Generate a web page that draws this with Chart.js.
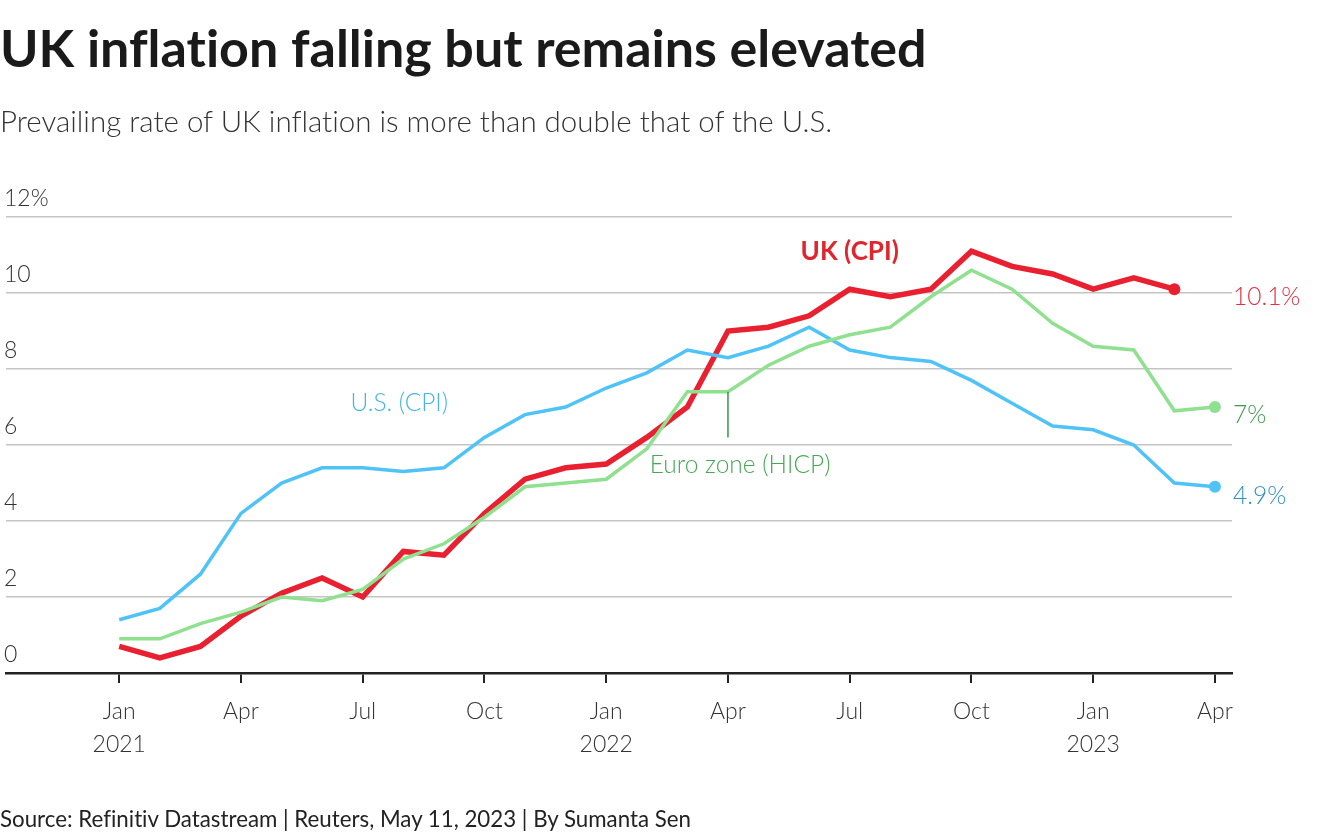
<!DOCTYPE html>
<html><head><meta charset="utf-8">
<script src="https://cdn.jsdelivr.net/npm/chart.js@4/dist/chart.umd.min.js"></script>
<style>
html,body{margin:0;padding:0;background:#fff;width:1320px;height:840px;overflow:hidden;font-family:Lato,"Noto Sans",sans-serif;}
#wrap{position:absolute;left:0;top:0;width:1320px;height:840px;}
.t{position:absolute;left:0;white-space:nowrap;color:#1a1a1a;font-variant-ligatures:none;}
#title{top:16px;font-size:52px;font-weight:700;}
#sub{top:103px;font-size:29.5px;font-weight:300;color:#333;}
#src{top:805px;font-size:22.3px;font-weight:400;color:#222;}
</style></head>
<body>
<div id="wrap"><canvas id="c" width="1320" height="840"></canvas></div>
<div class="t" id="title">UK inflation falling but remains elevated</div>
<div class="t" id="sub">Prevailing rate of UK inflation is more than double that of the U.S.</div>
<div class="t" id="src">Source: Refinitiv Datastream | Reuters, May 11, 2023 | By Sumanta Sen</div>
<script>
// Months from Jan 2021 (index 0) to Apr 2023 (index 27)
const months = ["Jan 2021","Feb 2021","Mar 2021","Apr 2021","May 2021","Jun 2021","Jul 2021","Aug 2021","Sep 2021","Oct 2021","Nov 2021","Dec 2021",
"Jan 2022","Feb 2022","Mar 2022","Apr 2022","May 2022","Jun 2022","Jul 2022","Aug 2022","Sep 2022","Oct 2022","Nov 2022","Dec 2022",
"Jan 2023","Feb 2023","Mar 2023","Apr 2023"];
const usCPI = [1.4,1.7,2.6,4.2,5.0,5.4,5.4,5.3,5.4,6.2,6.8,7.0,7.5,7.9,8.5,8.3,8.6,9.1,8.5,8.3,8.2,7.7,7.1,6.5,6.4,6.0,5.0,4.9];
const ukCPI = [0.7,0.4,0.7,1.5,2.1,2.5,2.0,3.2,3.1,4.2,5.1,5.4,5.5,6.2,7.0,9.0,9.1,9.4,10.1,9.9,10.1,11.1,10.7,10.5,10.1,10.4,10.1];
const euroHICP = [0.9,0.9,1.3,1.6,2.0,1.9,2.2,3.0,3.4,4.1,4.9,5.0,5.1,5.9,7.4,7.4,8.1,8.6,8.9,9.1,9.9,10.6,10.1,9.2,8.6,8.5,6.9,7.0];
const xTickIdx = [0,3,6,9,12,15,18,21,24,27];
const xTickLabels = [["Jan","2021"],["Apr"],["Jul"],["Oct"],["Jan","2022"],["Apr"],["Jul"],["Oct"],["Jan","2023"],["Apr"]];
const yTicks = [0,2,4,6,8,10,12];

const RED="#e8202f", BLUE="#4fc3f7", GREEN="#8fe08f";
const FONT='Lato, "Noto Sans", sans-serif';
const pts = a => a.map((v,i)=>({x:i,y:v}));
const lastDot = (a,col) => ({pointRadius:a.map((v,i)=>i===a.length-1?6:0), pointBackgroundColor:col, pointBorderWidth:0});

const labels = {
  id:'labels',
  afterDatasetsDraw(chart){
    const {ctx, scales:{x,y}, chartArea} = chart;
    ctx.save();
    // Euro leader line
    ctx.strokeStyle="#2f9a45"; ctx.lineWidth=1.5;
    ctx.beginPath(); ctx.moveTo(x.getPixelForValue(15), y.getPixelForValue(euroHICP[15])); ctx.lineTo(x.getPixelForValue(15), y.getPixelForValue(6.2)); ctx.stroke();
    ctx.textBaseline='middle';
    ctx.font='bold 26px '+FONT;
    ctx.fillStyle="#e0252d"; ctx.textAlign='center';
    ctx.fillText("UK (CPI)", x.getPixelForValue(18.0), y.getPixelForValue(11.1));
    ctx.font='300 24.5px '+FONT;
    ctx.fillStyle="#45b4ea";
    ctx.fillText("U.S. (CPI)", x.getPixelForValue(6.9), y.getPixelForValue(7.1));
    ctx.fillStyle="#46a857";
    ctx.fillText("Euro zone (HICP)", x.getPixelForValue(15.3), y.getPixelForValue(5.47));
    ctx.textAlign='left';
    const rx = chartArea.right + 1;
    ctx.fillStyle="#e0303f"; ctx.fillText("10.1%", rx, y.getPixelForValue(ukCPI[ukCPI.length-1])+8);
    ctx.fillStyle="#3f9a4f"; ctx.fillText("7%", rx, y.getPixelForValue(euroHICP[euroHICP.length-1])+8);
    ctx.fillStyle="#2e92c4"; ctx.fillText("4.9%", rx, y.getPixelForValue(usCPI[usCPI.length-1])+9);
    ctx.restore();
  }
};

new Chart(document.getElementById('c'), {
  type:'line',
  data:{datasets:[
    {label:'Euro zone (HICP)', data:pts(euroHICP), borderColor:GREEN, borderWidth:3.5, ...lastDot(euroHICP,GREEN)},
    {label:'U.S. (CPI)', data:pts(usCPI), borderColor:BLUE, borderWidth:3.5, ...lastDot(usCPI,BLUE)},
    {label:'UK (CPI)', data:pts(ukCPI), borderColor:RED, borderWidth:5.5, ...lastDot(ukCPI,RED)}
  ]},
  options:{
    responsive:false, animation:false, devicePixelRatio:1,
    layout:{padding:{top:217,left:0,right:88,bottom:67}},
    plugins:{legend:{display:false}, tooltip:{enabled:false}},
    elements:{line:{tension:0, borderJoinStyle:'miter', borderCapStyle:'butt'}, point:{hoverRadius:0}},
    scales:{
      x:{type:'linear', min:-2.79, max:27.42,
        afterBuildTicks:s=>{s.ticks = xTickIdx.map(v=>({value:v}));},
        afterFit:s=>{s.height=100;},
        border:{display:true,color:'#222',width:2.5},
        grid:{drawOnChartArea:false, drawTicks:true, tickLength:10, color:'#222', lineWidth:2},
        ticks:{autoSkip:false, maxRotation:0, padding:12, color:'#333',
          font:{family:FONT, size:23, weight:'300', lineHeight:1.45},
          callback:(v)=>{const i=xTickIdx.indexOf(v); return i>=0?xTickLabels[i]:'';}}
      },
      y:{min:0,max:12,
        afterBuildTicks:s=>{s.ticks = yTicks.map(v=>({value:v}));},
        afterFit:s=>{s.width=0;},
        border:{display:false},
        grid:{color:(c)=>c.tick.value===0?'rgba(0,0,0,0)':'#c4c4c4', lineWidth:1.5, drawTicks:false},
        ticks:{mirror:true, padding:-2, labelOffset:-18, color:'#333',
          font:{family:FONT, size:23, weight:'300'},
          callback:v=>v===12?'12%':String(v)}
      }
    }
  },
  plugins:[labels]
});
</script>
</body></html>
